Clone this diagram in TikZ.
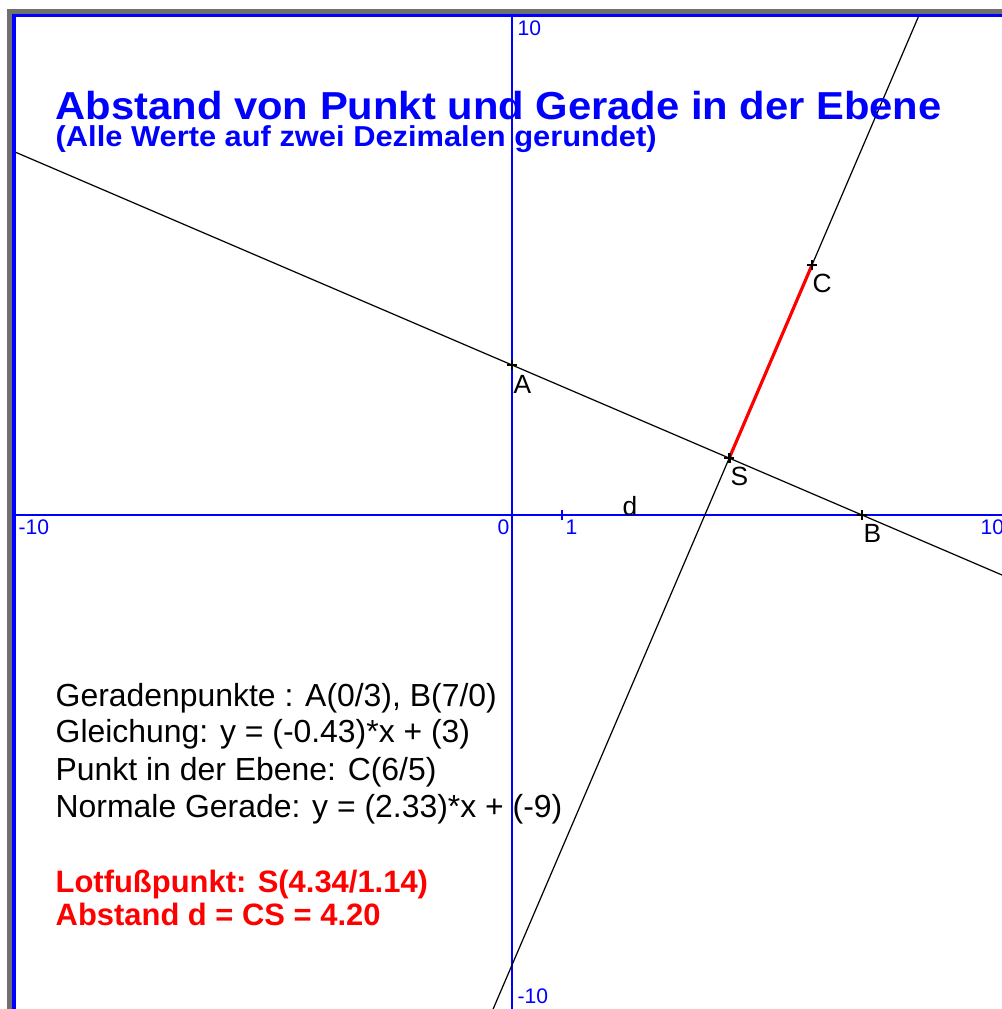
\documentclass[tikz,border=0pt]{standalone}
\usepackage{fontspec}
\setmainfont{Liberation Sans}
\newfontfamily\widesans{Liberation Sans}[FakeStretch=1.07]
\usetikzlibrary{calc}
\definecolor{frameGray}{RGB}{112,112,112}
\definecolor{geoBlue}{RGB}{0,0,255}
\definecolor{geoRed}{RGB}{255,0,0}
\tikzset{
  axis/.style={geoBlue,line width=0.6pt},
  axlabel/.style={geoBlue,font=\fontsize{6}{7}\selectfont,anchor=base west,inner sep=0pt},
  ptlabel/.style={font=\fontsize{7.5}{9}\selectfont,anchor=base west,inner sep=0pt},
  ptmark/.style={line width=0.75pt},
  geoline/.style={line width=0.35pt},
  heading/.style={geoBlue,anchor=base west,inner sep=0pt},
  info/.style={font=\fontsize{9.08}{10}\selectfont,anchor=base west,inner sep=0pt},
  result/.style={geoRed,font=\bfseries\fontsize{8.8}{10}\selectfont,anchor=base west,inner sep=0pt}
}
\begin{document}
\begin{tikzpicture}[x=0.5cm,y=0.5cm]
\useasboundingbox (-10.24,-9.88) rectangle (9.8,10.3);
\fill[white] (-10.24,-9.88) rectangle (9.8,10.3);
\fill[frameGray] (-10.1,-9.88) rectangle (9.8,10.12);
\fill[geoBlue] (-10.0,-9.88) rectangle (9.8,10.02);
\fill[white] (-9.92,-9.88) rectangle (9.8,9.96);
% axes
\draw[axis] (-9.92,0) -- (9.8,0);
\draw[axis] (0,-9.88) -- (0,9.96);
\draw[axis] (1,-0.1) -- (1,0.1);
\node[axlabel] (xmin) at (-9.88,-0.38) {-10};
\node[axlabel] (xnull) at (-0.3,-0.38) {0};
\node[axlabel] (xone) at (1.06,-0.38) {1};
\node[axlabel] (xmax) at (9.36,-0.38) {10};
\node[axlabel] (ymax) at (0.1,9.6) {10};
\node[axlabel] (ymin) at (0.1,-9.76) {-10};
% points
\coordinate (A) at (0,3);
\coordinate (B) at (7,0);
\coordinate (C) at (6,5);
\coordinate (S) at (4.3448,1.1379);
\begin{scope}
\clip (-9.92,-9.88) rectangle (9.8,9.96);
\draw[geoline] ($(A)!-2!(B)$) -- ($(A)!3!(B)$);
\draw[geoline] ($(S)!-6!(C)$) -- ($(S)!6!(C)$);
\end{scope}
\draw[geoRed,line width=0.9pt] (S) -- (C);
\foreach \p in {A,B,C,S}
  \draw[ptmark] ($(\p)+(-0.1,0)$) -- ($(\p)+(0.1,0)$) ($(\p)+(0,-0.1)$) -- ($(\p)+(0,0.1)$);
\node[ptlabel] (labA) at (0.02,2.44) {A};
\node[ptlabel] (labB) at (7.02,-0.54) {B};
\node[ptlabel] (labC) at (6.0,4.46) {C};
\node[ptlabel] (labS) at (4.36,0.6) {S};
\node[ptlabel] (labd) at (2.2,0) {d};
% texts
\node[heading,font=\widesans\bfseries\fontsize{11.1}{13}\selectfont] (title) at (-9.14,7.91) {Abstand von Punkt und Gerade in der Ebene};
\node[heading,font=\widesans\bfseries\fontsize{8.2}{10}\selectfont] (subtitle) at (-9.14,7.37) {(Alle Werte auf zwei Dezimalen gerundet)};
\node[info] (l1) at (-9.14,-3.82) {Geradenpunkte : A(0/3), B(7/0)};
\node[info] (l2) at (-9.14,-4.54) {Gleichung: y = (-0.43)*x + (3)};
\node[info] (l3) at (-9.14,-5.30) {Punkt in der Ebene: C(6/5)};
\node[info] (l4) at (-9.14,-6.04) {Normale Gerade: y = (2.33)*x + (-9)};
\node[result] (r1) at (-9.14,-7.55) {Lotfußpunkt: S(4.34/1.14)};
\node[result] (r2) at (-9.14,-8.20) {Abstand d = CS = 4.20};
\end{tikzpicture}
\end{document}
